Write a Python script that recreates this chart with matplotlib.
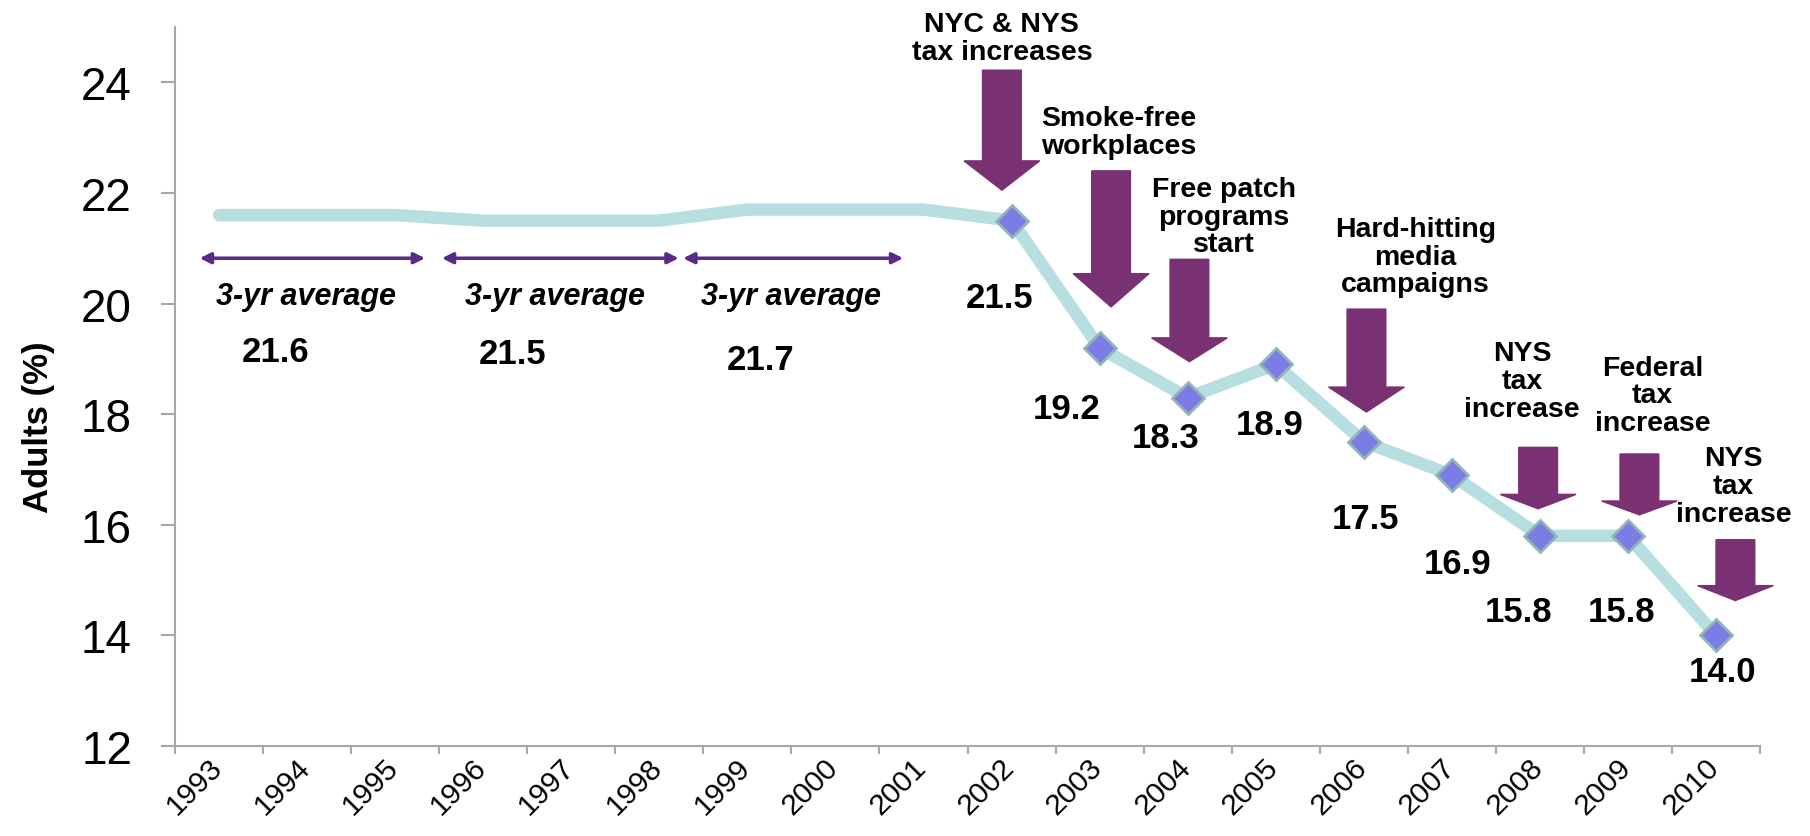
import matplotlib
matplotlib.use('Agg')
import matplotlib.pyplot as plt
from matplotlib.patches import Polygon
from matplotlib.ticker import NullFormatter
from matplotlib.transforms import ScaledTranslation

plt.rcParams['font.family'] = ['Liberation Sans', 'DejaVu Sans']

# data
years = ['1993', '1994', '1995', '1996', '1997', '1998', '1999', '2000', '2001',
         '2002', '2003', '2004', '2005', '2006', '2007', '2008', '2009', '2010']
rates = [21.6, 21.6, 21.6, 21.5, 21.5, 21.5, 21.7, 21.7, 21.7,
         21.5, 19.2, 18.3, 18.9, 17.5, 16.9, 15.8, 15.8, 14.0]
first_marked = 9  # yearly points start in 2002

# 3-yr averages
avg_values = [21.6, 21.5, 21.7]
avg_spans = [(-0.22, 2.34), (2.53, 5.22), (5.27, 7.77)]
avg_text_x = [0.99, 3.82, 6.49]
avg_value_x = [0.64, 3.33, 6.15]
avg_value_y = [19.14, 19.10, 18.98]

# label offsets (pixels) for yearly points
label_dx = [-12, -33, -22, -6, 2, 6, -21, -6, 6]
label_dy = [77, 61, 40, 60, 77, 88, 76, 76, 36]

# policy events
events = ['NYC & NYS\ntax increases', 'Smoke-free\nworkplaces',
          'Free patch\nprograms\nstart', 'Hard-hitting\nmedia\ncampaigns',
          'NYS\ntax\nincrease', 'Federal\ntax\nincrease', 'NYS\ntax\nincrease']
event_x = [8.89, 10.22, 11.41, 13.59, 14.80, 16.28, 17.20]
event_y = [24.80, 23.10, 21.57, 20.85, 18.60, 18.34, 16.70]
arrow_x = [8.89, 10.13, 11.02, 13.03, 14.98, 16.13, 17.22]
arrow_top = [24.22, 22.40, 20.80, 19.90, 17.40, 17.28, 15.73]
arrow_base = [22.58, 20.54, 19.38, 18.49, 16.55, 16.43, 14.90]
arrow_tip = [22.05, 19.94, 18.95, 18.04, 16.29, 16.18, 14.63]

fig = plt.figure(figsize=(18.1, 8.37), dpi=100)
ax = fig.add_axes([0.0967, 0.1075, 0.8757, 0.859])

x = list(range(len(years)))
ax.plot(x, rates, color='#B7DEE1', lw=9, solid_capstyle='round',
        solid_joinstyle='round', zorder=2)
ax.plot(x[first_marked:], rates[first_marked:], ls='none', marker='D', ms=16,
        mfc='#7B7CE6', mec='#93B4B4', mew=2, zorder=3)

# axes
ax.set_xlim(-0.5, len(years) - 0.5)
ax.set_ylim(12, 25)
ax.set_yticks(range(12, 25, 2))
ax.set_xticks([i - 0.5 for i in range(len(years) + 1)])
ax.xaxis.set_major_formatter(NullFormatter())
ax.set_xticks(x, minor=True)
ax.set_xticklabels(years, minor=True, rotation=45, ha='right', va='top')
ax.tick_params(axis='x', which='minor', length=0, pad=5, labelsize=21.5)
ax.tick_params(axis='x', which='major', length=6, width=1.5, color='#A6A6A6')
ax.tick_params(axis='y', length=10, width=1.5, color='#A6A6A6', pad=21, labelsize=33)
shift = ScaledTranslation(6 / 72, 0, fig.dpi_scale_trans)
for lbl in ax.get_xticklabels(minor=True):
    lbl.set_transform(lbl.get_transform() + shift)
for s in ['top', 'right']:
    ax.spines[s].set_visible(False)
for s in ['left', 'bottom']:
    ax.spines[s].set_color('#A6A6A6')
    ax.spines[s].set_linewidth(1.5)

ax.set_ylabel('Adults (%)', fontsize=25, fontweight='bold')
ax.yaxis.set_label_coords(-0.076, 0.445)

# 3-yr average spans
for (x0, x1), tx, vx, vy, v in zip(avg_spans, avg_text_x, avg_value_x, avg_value_y, avg_values):
    ax.annotate('', xy=(x1, 20.82), xytext=(x0, 20.82),
                arrowprops=dict(arrowstyle='<|-|>', color='#5B2A86', lw=2.5,
                                mutation_scale=16, shrinkA=0, shrinkB=0))
    ax.text(tx, 20.14, '3-yr average', ha='center', va='center', fontsize=22,
            fontweight='bold', style='italic')
    ax.text(vx, vy, f'{v:.1f}', ha='center', va='center', fontsize=25, fontweight='bold')

# yearly labels
for k, i in enumerate(range(first_marked, len(years))):
    ax.annotate(f'{rates[i]:.1f}', (i, rates[i]), xytext=(label_dx[k], -label_dy[k]),
                textcoords='offset pixels', ha='center', va='center',
                fontsize=25, fontweight='bold')

# event arrows
sw, hw = 0.44, 0.86
for cx, top, base, tip in zip(arrow_x, arrow_top, arrow_base, arrow_tip):
    pts = [(cx - sw / 2, top), (cx + sw / 2, top), (cx + sw / 2, base),
           (cx + hw / 2, base), (cx, tip), (cx - hw / 2, base), (cx - sw / 2, base)]
    ax.add_patch(Polygon(pts, closed=True, color='#7A3173', zorder=4, clip_on=False))

for txt, ex, ey in zip(events, event_x, event_y):
    ax.text(ex, ey, txt, ha='center', va='center', fontsize=20.5, fontweight='bold',
            linespacing=1.08, clip_on=False)

fig.savefig('out.png', dpi=100)
